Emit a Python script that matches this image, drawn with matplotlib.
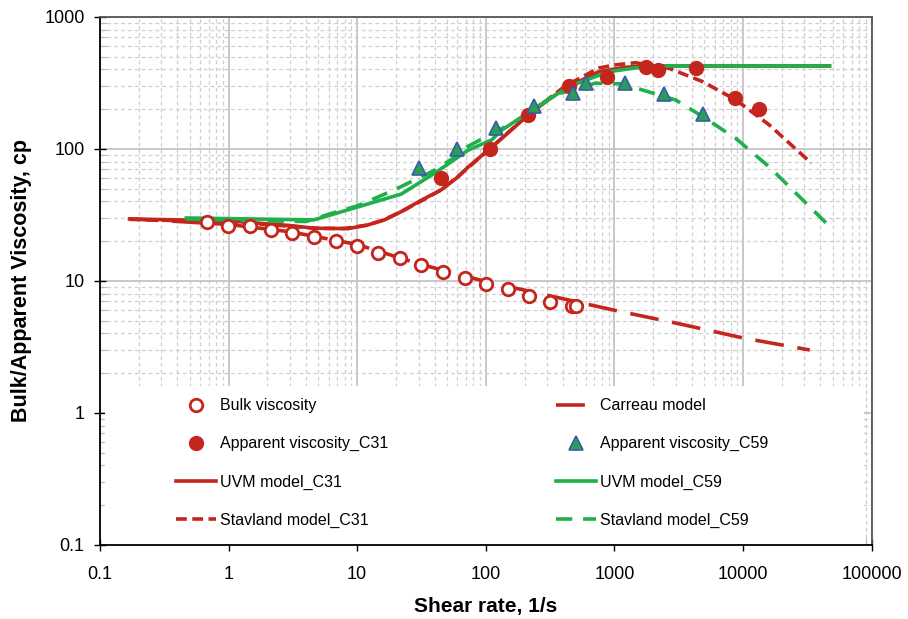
import numpy as np
import matplotlib.pyplot as plt
from matplotlib.patches import Rectangle
from matplotlib.ticker import LogLocator, FixedLocator, FixedFormatter, NullFormatter

plt.rcParams['font.family'] = ['Liberation Sans', 'DejaVu Sans']

RED = '#c4261d'
GREEN = '#1db04b'
TRI_FACE = '#2a9d57'
TRI_EDGE = '#3a5ca8'

# measured bulk viscosity and Carreau fit
bulk_rate = [0.68, 0.99, 1.46, 2.13, 3.13, 4.61, 6.82, 9.95, 14.6, 21.7, 31.5,
             46.5, 68.5, 100, 148, 217, 318, 468, 503]
bulk_visc = [28.2, 26.2, 26.1, 24.3, 23.2, 21.7, 20.2, 18.4, 16.4, 14.8, 13.3,
             11.7, 10.5, 9.5, 8.65, 7.7, 6.97, 6.5, 6.5]

carreau_rate = [0.17, 0.3, 1, 3, 10, 30, 100, 300, 1000, 3000, 10000, 33000]
carreau_visc = [29.5, 28.7, 26.8, 23.6, 18.9, 13.5, 9.9, 7.8, 6.0, 4.8, 3.7, 3.0]

# apparent viscosity in cores
app31_rate = [45, 107, 214, 441, 870, 1750, 2200, 4340, 8720, 13270]
app31_visc = [60, 100, 181, 298, 353, 416, 396, 408, 242, 200]

app59_rate = [30, 60, 120, 239, 475, 600, 1205, 2430, 4840]
app59_visc = [71.5, 99.6, 143, 212, 267, 315, 315, 261, 184]

# model curves
uvm31_rate = [0.17, 1, 3, 4.6, 8.5, 12, 16.3, 22, 31, 45, 61, 73, 107, 133,
              214, 300, 414, 755, 1200, 1650, 3000, 47000]
uvm31_visc = [29.5, 28.5, 26.3, 25.1, 24.9, 26.5, 29, 33.5, 40.5, 49, 61.6, 73,
              100, 120, 181, 232, 288, 385, 415, 425, 425, 425]

stav31_rate = [0.17, 1, 3, 5, 8, 12, 16, 22, 31, 45, 61, 107, 214, 414, 755,
               1000, 1460, 2660, 4840, 8810, 16000, 34000]
stav31_visc = [29.3, 28.0, 26.0, 25.0, 25.0, 26.5, 29, 33.5, 40, 49, 62, 100,
               182, 300, 410, 433, 450, 408, 324, 235, 152, 78]

uvm59_rate = [0.47, 4.6, 22, 40, 73, 111, 133, 241, 441, 904, 1860, 47000]
uvm59_visc = [30.0, 29.0, 45.5, 65.5, 98, 117, 139, 203, 297, 385, 425, 425]

stav59_rate = [0.47, 2, 4, 6, 10, 19.5, 40, 61, 73, 169, 346, 711, 1150, 3000,
               4840, 8810, 16000, 46000]
stav59_visc = [29.5, 28.5, 28.2, 32, 37, 49, 69, 90, 105, 161, 257, 315, 311,
               235, 176, 120, 73, 26.5]

x_ticks = [0.1, 1, 10, 100, 1000, 10000, 100000]
x_ticklabels = ['0.1', '1', '10', '100', '1000', '10000', '100000']
y_ticks = [0.1, 1, 10, 100, 1000]
y_ticklabels = ['0.1', '1', '10', '100', '1000']

fig = plt.figure(figsize=(9.08, 6.19), dpi=100)
ax = fig.add_axes([0.110, 0.1196, 0.850, 0.853])
ax.set_xscale('log')
ax.set_yscale('log')
ax.set_xlim(0.1, 100000)
ax.set_ylim(0.1, 1000)

ax.set_axisbelow(True)
ax.grid(which='major', color='#c4c4c4', lw=1.3, ls='-')
ax.grid(which='minor', color='#cfcfcf', lw=0.9, ls=(0, (3, 2.5)))
ax.xaxis.set_minor_locator(LogLocator(base=10, subs=np.arange(2, 10)))
ax.yaxis.set_minor_locator(LogLocator(base=10, subs=np.arange(2, 10)))
ax.xaxis.set_minor_formatter(NullFormatter())
ax.yaxis.set_minor_formatter(NullFormatter())
ax.xaxis.set_major_locator(FixedLocator(x_ticks))
ax.xaxis.set_major_formatter(FixedFormatter(x_ticklabels))
ax.yaxis.set_major_locator(FixedLocator(y_ticks))
ax.yaxis.set_major_formatter(FixedFormatter(y_ticklabels))
ax.tick_params(which='major', direction='inout', length=8, width=1, labelsize=13)
ax.tick_params(axis='x', which='major', pad=11)
ax.tick_params(axis='y', which='major', pad=7)
ax.tick_params(which='minor', direction='in', length=5, width=0.8, color='#bbbbbb')

for s in ['left', 'bottom']:
    ax.spines[s].set_color('black')
    ax.spines[s].set_linewidth(1.3)
for s in ['top', 'right']:
    ax.spines[s].set_color('#555555')
    ax.spines[s].set_linewidth(1.3)

# white panel behind the legend
ax.add_patch(Rectangle((0.006, 0.0), 0.984, 0.301, transform=ax.transAxes,
                       facecolor='white', edgecolor='none', zorder=1))

lw = 2.6
h_carreau, = ax.plot(carreau_rate, carreau_visc, color=RED, lw=lw, ls=(0, (8, 3.8)), zorder=3)
h_uvm31, = ax.plot(uvm31_rate, uvm31_visc, color=RED, lw=lw, ls='-', zorder=3)
h_stav31, = ax.plot(stav31_rate, stav31_visc, color=RED, lw=lw, ls=(0, (3, 1.5)), zorder=3)
h_uvm59, = ax.plot(uvm59_rate, uvm59_visc, color=GREEN, lw=lw, ls='-', zorder=4)
h_stav59, = ax.plot(stav59_rate, stav59_visc, color=GREEN, lw=lw, ls=(0, (4.5, 3)), zorder=4)

h_bulk, = ax.plot(bulk_rate, bulk_visc, ls='none', marker='o', ms=9, mfc='white',
                  mec=RED, mew=2, zorder=5)
h_app31, = ax.plot(app31_rate, app31_visc, ls='none', marker='o', ms=10, mfc=RED,
                   mec=RED, mew=1, zorder=5)
h_app59, = ax.plot(app59_rate, app59_visc, ls='none', marker='^', ms=10, mfc=TRI_FACE,
                   mec=TRI_EDGE, mew=1.2, zorder=6)

leg_kw = dict(loc='upper left', frameon=False, fontsize=11.5, handlelength=2.5,
              handletextpad=0.25, labelspacing=1.45, borderaxespad=0, borderpad=0)
leg1 = ax.legend([h_bulk, h_app31, h_uvm31, h_stav31],
                 ['Bulk viscosity', 'Apparent viscosity_C31', 'UVM model_C31', 'Stavland model_C31'],
                 bbox_to_anchor=(0.099, 0.278), **leg_kw)
ax.add_artist(leg1)
leg2 = ax.legend([h_carreau, h_app59, h_uvm59, h_stav59],
                 ['Carreau model', 'Apparent viscosity_C59', 'UVM model_C59', 'Stavland model_C59'],
                 bbox_to_anchor=(0.591, 0.278), **leg_kw)
for lg in (leg1, leg2):
    lg.set_zorder(7)

ax.set_xlabel('Shear rate, 1/s', fontsize=15, fontweight='bold', labelpad=10)
ax.set_ylabel('Bulk/Apparent Viscosity, cp', fontsize=15.5, fontweight='bold', labelpad=9)

fig.savefig('out.png', dpi=100)
